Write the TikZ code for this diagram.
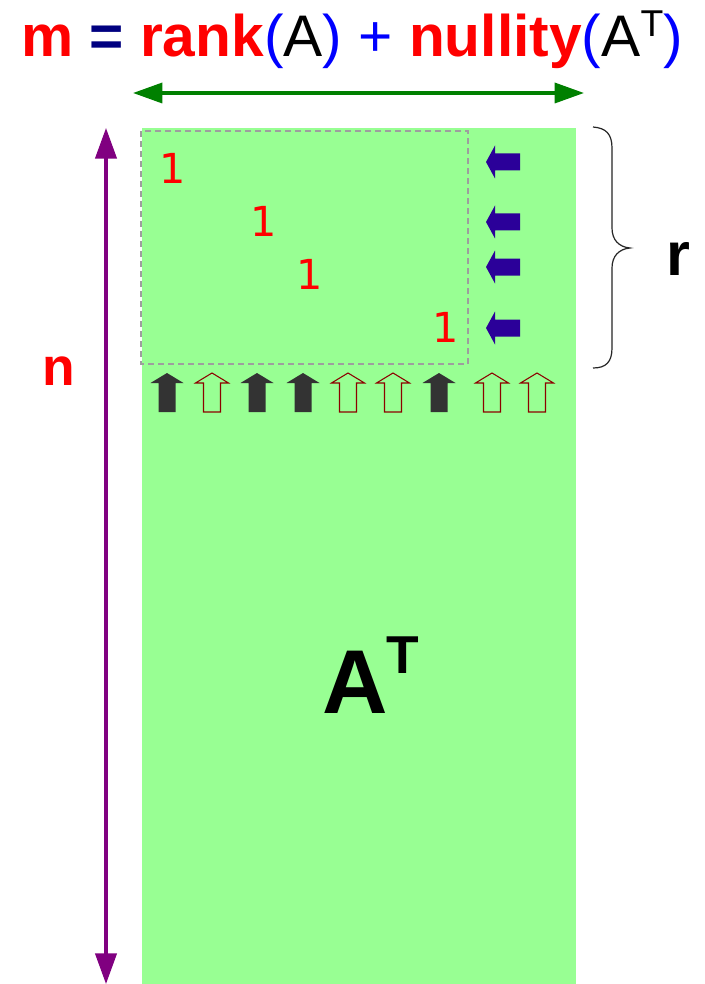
\documentclass[tikz,border=0pt]{standalone}
\usepackage{fontspec}
\setmainfont{Liberation Sans}
\newfontfamily\dejavu{DejaVu Sans}
\usetikzlibrary{arrows.meta}
\definecolor{matgreen}{RGB}{152,255,147}
\definecolor{darkarr}{RGB}{51,51,51}
\definecolor{bluearr}{RGB}{43,0,153}
\definecolor{hollowred}{RGB}{140,0,0}
\definecolor{navyeq}{RGB}{0,0,128}
\definecolor{purpl}{RGB}{128,0,128}
\definecolor{greenarr}{RGB}{0,128,0}
\begin{document}
\begin{tikzpicture}[x=0.75pt,y=-0.75pt,
  dashbox/.style={draw=black!38,line width=1.1pt,dash pattern=on 4.5pt off 3pt},
  darkup/.style={fill=darkarr},
  hollowup/.style={draw=hollowred,line width=0.8pt,line join=miter},
  leftarr/.style={fill=bluearr},
  one/.style={font=\dejavu\fontsize{31pt}{36pt}\selectfont,text=red,inner sep=0pt},
  bracestyle/.style={draw=black!85,line width=0.9pt},
]
\useasboundingbox[fill=white] (0,0) rectangle (704,984);
% matrix
\fill[matgreen] (142,128) rectangle (576,984);
\draw[dashbox] (141,131) rectangle (468,364);
% ones
\node[one] (o1) at (173,168) {1};
\node[one] (o2) at (264,221) {1};
\node[one] (o3) at (310,274) {1};
\node[one] (o4) at (446,327) {1};
% up arrows
\foreach \cx in {167,257,303,439}
  \fill[darkup] (\cx,373) -- (\cx+16.5,383) -- (\cx+8.5,383) -- (\cx+8.5,412) -- (\cx-8.5,412) -- (\cx-8.5,383) -- (\cx-16.5,383) -- cycle;
\foreach \cx in {212,348,393,492,537}
  \draw[hollowup] (\cx,373) -- (\cx+16.5,383) -- (\cx+8.5,383) -- (\cx+8.5,412) -- (\cx-8.5,412) -- (\cx-8.5,383) -- (\cx-16.5,383) -- cycle;
% left arrows
\foreach \cy in {162,222,267,328}
  \fill[leftarr] (486,\cy) -- (495,\cy-16.5) -- (495,\cy-8.5) -- (520,\cy-8.5) -- (520,\cy+8.5) -- (495,\cy+8.5) -- (495,\cy+16.5) -- cycle;
% brace
\draw[bracestyle] (593,127) .. controls (606,128) and (612,134) .. (612,148) -- (612,228) .. controls (612,240) and (619,247) .. (630,248) .. controls (619,249) and (612,256) .. (612,268) -- (612,348) .. controls (612,362) and (606,368) .. (593,368);
\node[font=\bfseries\fontsize{46pt}{50pt}\selectfont,inner sep=0pt] (r) at (678,259) {r};
% green arrow
\coordinate (gL) at (133,93);
\coordinate (gR) at (584,93);
\draw[greenarr,line width=2.6pt,{Triangle[length=22pt,width=15pt]}-{Triangle[length=22pt,width=15pt]}] (gL) -- (gR);
% purple arrow
\coordinate (pT) at (106,128);
\coordinate (pB) at (106,984);
\draw[purpl,line width=2.4pt,{Triangle[length=23pt,width=16pt]}-{Triangle[length=23pt,width=16pt]}] (pT) -- (pB);
\node[font=\bfseries\fontsize{40pt}{44pt}\selectfont,text=red,inner sep=0pt] (n) at (59,371) {n};
% A^T
\node[font=\bfseries\fontsize{68pt}{72pt}\selectfont,anchor=base,inner sep=0pt] (A) at (355.5,713) {A};
\node[font=\bfseries\fontsize{40pt}{44pt}\selectfont,anchor=base,inner sep=0pt] (T) at (402.5,673) {T};
% title
\node[anchor=base,inner sep=0pt,font=\fontsize{44pt}{48pt}\selectfont] (title) at (352,57)
 {{\bfseries\color{red}m} {\bfseries\color{navyeq}=} {\bfseries\color{red}rank}{\color{blue}(}A{\color{blue})} {\color{blue}+} {\bfseries\color{red}nullity}{\color{blue}(}A\raisebox{15pt}{\fontsize{28pt}{30pt}\selectfont T}{\color{blue})}};
\end{tikzpicture}
\end{document}
